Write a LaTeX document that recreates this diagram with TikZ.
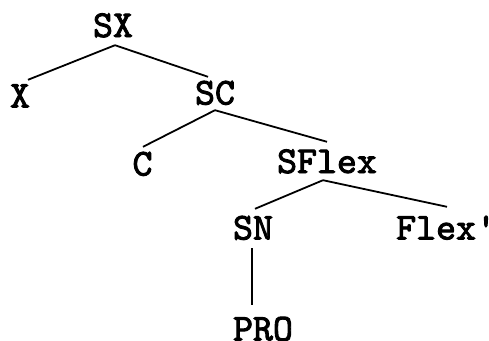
\documentclass[tikz,border=0pt]{standalone}
\usepackage{fontspec}
\newfontfamily\ctt[FakeBold=2.5]{lmmono10-regular.otf}
\begin{document}
\begin{tikzpicture}[x=1pt,y=-1pt,
  lab/.style={font=\ctt\fontsize{38}{38}\selectfont, inner sep=0pt, text height=21pt, text depth=0pt},
  edge/.style={line width=1.8pt}]
\useasboundingbox (0,0) rectangle (489,340);
\node[lab] (sx) at (113,26.5) {SX};
\node[lab] (x) at (20,97) {X};
\node[lab] (sc) at (215,94) {SC};
\node[lab] (c) at (142.5,165) {C};
\node[lab] (sflex) at (327,162.5) {SFlex};
\node[lab] (sn) at (253,229) {SN};
\node[lab, anchor=west] (fl) at (396,229) {Flex'};
\node[lab] (pro) at (263,330) {PRO};
\draw[edge] ([shift={(2,8)}]sx.south) -- ([shift={(8,-6.5)}]x.north);
\draw[edge] ([shift={(2,8)}]sx.south) -- ([shift={(-7,-6.5)}]sc.north);
\draw[edge] ([shift={(0,5.5)}]sc.south) -- ([shift={(0.5,-7.5)}]c.north);
\draw[edge] ([shift={(0,5.5)}]sc.south) -- ([shift={(0,-10)}]sflex.north);
\draw[edge] ([shift={(-4,7)}]sflex.south) -- ([shift={(2,-9.5)}]sn.north);
\draw[edge] ([shift={(-4,7)}]sflex.south) -- ([shift={(51,-11.5)}]fl.north west);
\draw[edge] ([shift={(-1,8.5)}]sn.south) -- ([shift={(-11,-14.5)}]pro.north);
\end{tikzpicture}
\end{document}
